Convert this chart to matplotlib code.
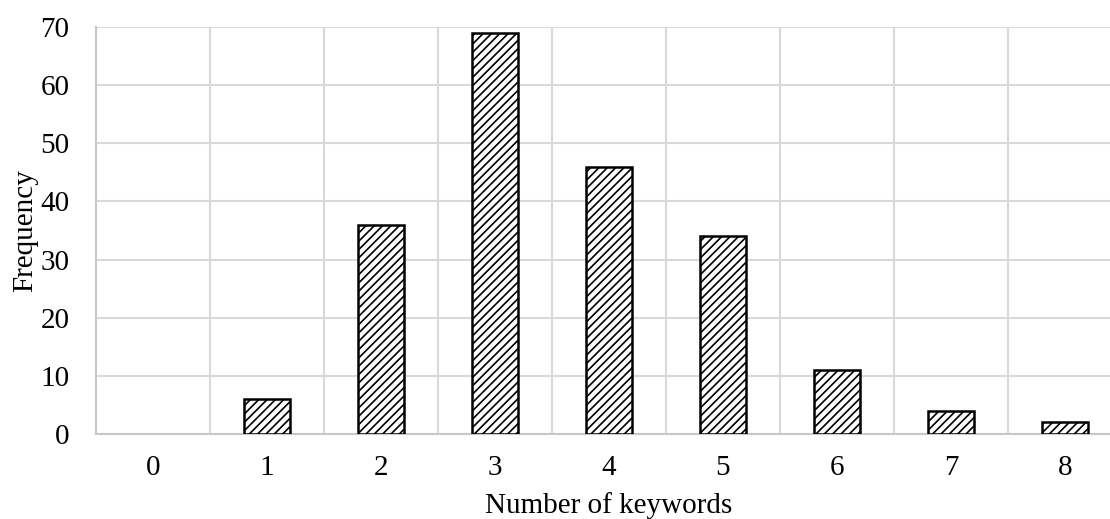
import numpy as np
import matplotlib
matplotlib.use('Agg')
import matplotlib.pyplot as plt

# keyword counts and how many items had that count
keywords = [0, 1, 2, 3, 4, 5, 6, 7, 8]
frequency = [0, 6, 36, 69, 46, 34, 11, 4, 2]
y_ticks = [0, 10, 20, 30, 40, 50, 60, 70]

plt.rcParams['font.family'] = ['Liberation Serif', 'DejaVu Serif']
plt.rcParams['hatch.linewidth'] = 1.2

fig = plt.figure(figsize=(11.10, 5.19), dpi=100)
# the original chart runs off the right edge of the picture
ax = fig.add_axes([96 / 1110, 1 - 434 / 519, 1026 / 1110, 407 / 519])

bars = ax.bar(keywords, frequency, width=0.41, color='white', edgecolor='black',
              linewidth=1.8, hatch='////', zorder=3)
# empty categories get no outline
for b, v in zip(bars, frequency):
    if v == 0:
        b.set_visible(False)

ax.set_xlim(-0.5, 8.5)
ax.set_ylim(0, 70)
ax.set_yticks(y_ticks)
ax.set_xticks(keywords)

# gridlines: horizontal at ticks, vertical between categories
ax.set_xticks(np.arange(-0.5, 9.0, 1.0), minor=True)
ax.grid(axis='y', which='major', color='#d9d9d9', linewidth=1.5, zorder=0)
ax.grid(axis='x', which='minor', color='#d9d9d9', linewidth=1.5, zorder=0)
ax.grid(axis='x', which='major', visible=False)

for side in ['top', 'right']:
    ax.spines[side].set_visible(False)
for side in ['left', 'bottom']:
    ax.spines[side].set_color('#c8c8c8')
    ax.spines[side].set_linewidth(1.5)

ax.tick_params(which='both', length=0, labelsize=21, colors='black')
ax.tick_params(axis='y', pad=19)
ax.tick_params(axis='x', pad=15)

ax.set_xlabel('Number of keywords', fontsize=21, labelpad=8)
ax.set_ylabel('Frequency', fontsize=21, labelpad=2)

fig.savefig('out.png', dpi=100)
